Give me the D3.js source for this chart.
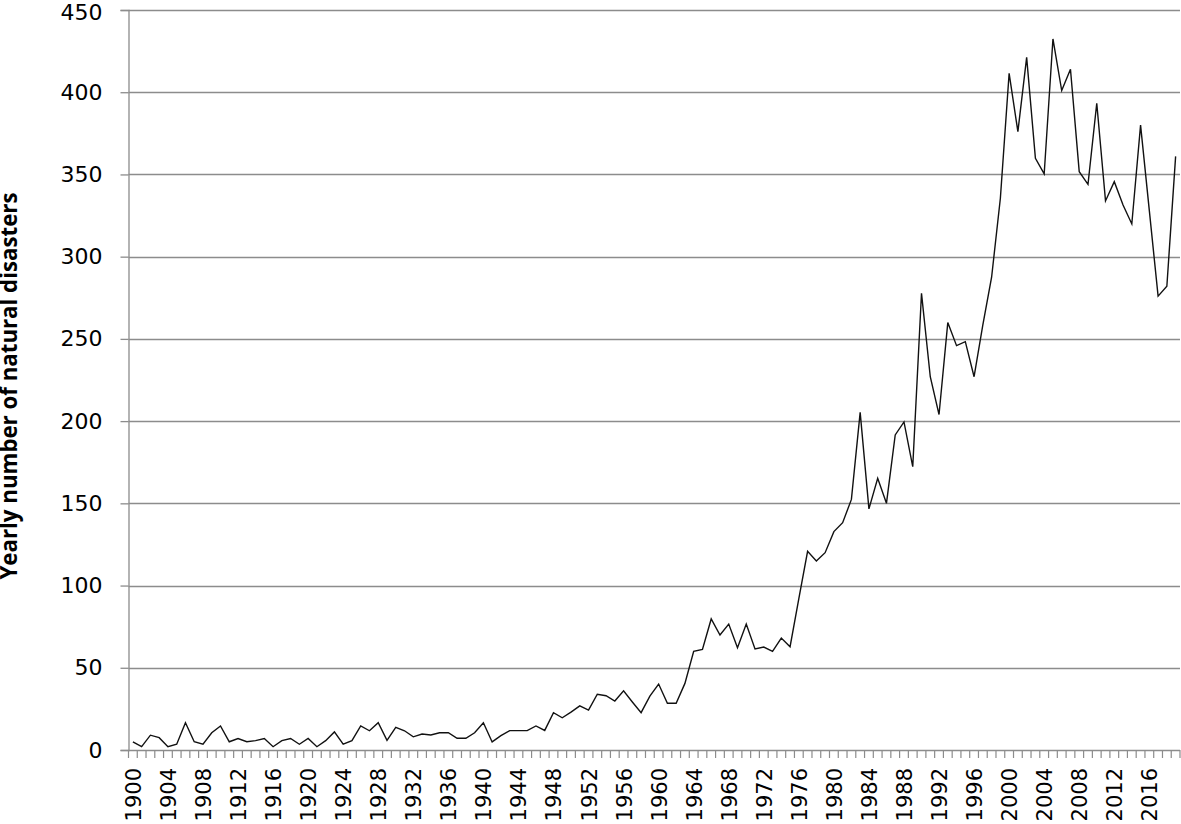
<!DOCTYPE html>
<html>
<head>
<meta charset="utf-8">
<script src="https://cdn.jsdelivr.net/npm/d3@7"></script>
<style>
  html, body { margin: 0; padding: 0; background: #fff; }
  svg { display: block; }
</style>
</head>
<body>
<svg id="chart" width="1181" height="824"></svg>
<script>
// ---- data ----
const years = d3.range(1900, 2020);
const disasters = [
  5, 2, 9, 7.5, 2, 3.5, 16.6, 5, 3.5, 10.5,
  14.6, 5, 7, 5, 5.7, 7, 2, 5.7, 7, 3.5,
  7, 2, 5.7, 11, 3.5, 5.7, 14.6, 11.7, 16.6, 5.9,
  13.8, 11.7, 8, 9.7, 9.1, 10.5, 10.5, 7.1, 7.1, 10.5,
  16.6, 4.9, 8.7, 11.8, 11.8, 11.8, 14.6, 11.9, 22.7, 19.6,
  23, 26.8, 24.3, 33.9, 33, 29.8, 36, 29.2, 22.7, 32.8,
  40.1, 28.4, 28.4, 40.5, 60, 61.2, 79.7, 69.9, 76.6, 62.2,
  76.6, 61.4, 62.6, 60, 68.1, 62.8, 92, 120.8, 114.9, 120,
  132.8, 138.2, 152.4, 205.3, 146.6, 165.2, 150, 191.6, 199.5, 172.3,
  277.7, 227, 204, 259.9, 245.9, 248.3, 227, 258.5, 287.5, 335.5,
  411.5, 376, 421.2, 359.8, 350.3, 432.4, 401, 414, 351.7, 344,
  393.3, 333.9, 345.6, 331.4, 319.9, 380, 328, 276, 282, 361
];
const yTicks = [0, 50, 100, 150, 200, 250, 300, 350, 400, 450];
const xLabelYears = d3.range(1900, 2020, 4);
const yTitle = "Yearly number of natural disasters";

// ---- layout ----
const svg = d3.select("#chart");
const mLeft = 128.5, mRight = 1180, mTop = 10, mBottom = 750;
const gridColor = "#8c8c8c";
const fontFam = "'DejaVu Sans', sans-serif";

const x = d3.scaleBand().domain(years).range([mLeft, mRight]).padding(0);
const y = d3.scaleLinear().domain([0, 450]).range([mBottom, mTop]);

// gridlines
svg.append("g")
  .selectAll("line")
  .data(yTicks.filter(d => d > 0))
  .join("line")
  .attr("x1", mLeft).attr("x2", mRight)
  .attr("y1", d => Math.round(y(d)) + 0.5).attr("y2", d => Math.round(y(d)) + 0.5)
  .attr("stroke", gridColor).attr("stroke-width", 1.3);

// y axis
const yAxis = d3.axisLeft(y).tickValues(yTicks).tickSize(8).tickPadding(18)
  .tickFormat(d3.format("d"));
const gy = svg.append("g").attr("transform", `translate(${mLeft},0)`).call(yAxis);
gy.select(".domain").attr("stroke", gridColor).attr("stroke-width", 1.3);
gy.selectAll(".tick line").attr("stroke", gridColor).attr("stroke-width", 1.3);
gy.selectAll(".tick text").attr("fill", "#000")
  .style("font-family", fontFam).style("font-size", "22px");
gy.selectAll(".tick text").filter(d => d === 450).attr("dy", "0.42em");

// x axis (category axis, ticks between categories)
const gx = svg.append("g").attr("transform", `translate(0,${mBottom})`);
gx.append("line").attr("x1", mLeft).attr("x2", mRight).attr("y1", 0.5).attr("y2", 0.5)
  .attr("stroke", gridColor).attr("stroke-width", 1.3);
const boundaries = years.map(d => x(d)).concat([mRight]);
gx.selectAll("line.tk").data(boundaries).join("line").attr("class", "tk")
  .attr("x1", d => d).attr("x2", d => d).attr("y1", 0).attr("y2", 8)
  .attr("stroke", gridColor).attr("stroke-width", 1.2);
gx.selectAll("text.lbl").data(xLabelYears).join("text").attr("class", "lbl")
  .attr("transform", d => `translate(${x(d) + x.bandwidth() / 2 + 1},18) rotate(-90)`)
  .attr("text-anchor", "end")
  .attr("dominant-baseline", "central")
  .style("font-family", fontFam).style("font-size", "21px")
  .attr("fill", "#000")
  .text(d => d);

// line
const line = d3.line()
  .x((d, i) => x(years[i]) + x.bandwidth() / 2)
  .y(d => y(d));
svg.append("path").datum(disasters)
  .attr("d", line)
  .attr("fill", "none").attr("stroke", "#111").attr("stroke-width", 1.4)
  .attr("stroke-linejoin", "miter");

// y title
const t = svg.append("text")
  .attr("transform", "translate(17,386) rotate(-90)")
  .attr("text-anchor", "middle")
  .style("font-family", "'Open Sans', sans-serif").style("font-weight", "bold")
  .style("font-size", "17px").attr("fill", "#000")
  .text(yTitle);
const w = t.node().getComputedTextLength();
if (w > 0) t.style("font-size", (17 * 387 / w).toFixed(2) + "px");
</script>
</body>
</html>
